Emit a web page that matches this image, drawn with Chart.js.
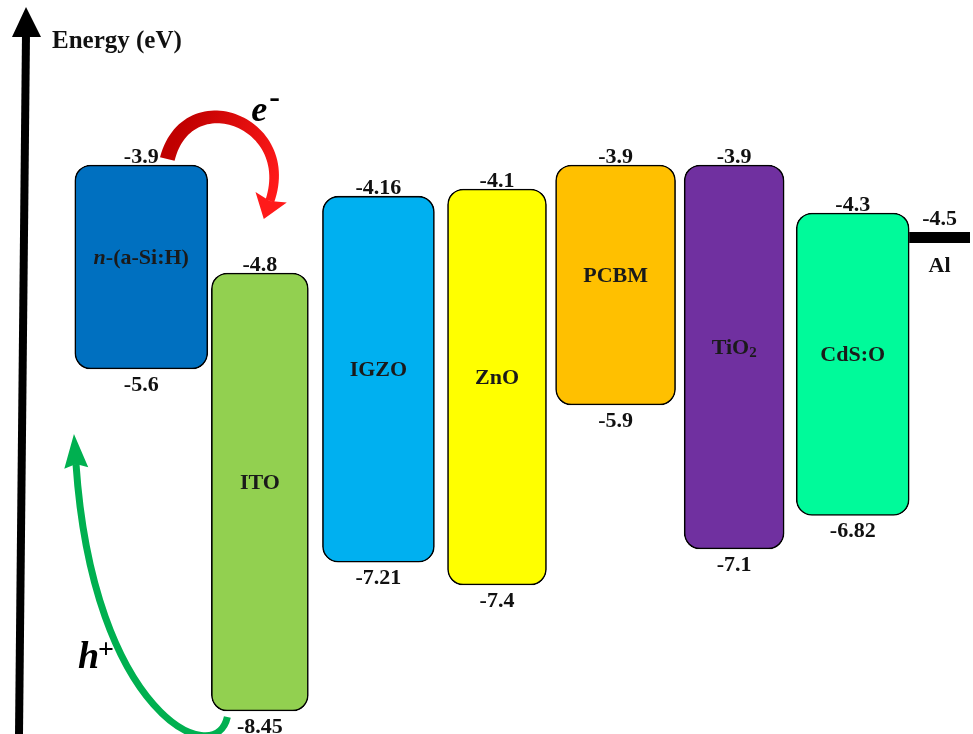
<!DOCTYPE html>
<html><head><meta charset="utf-8">
<script src="https://cdn.jsdelivr.net/npm/chart.js@4.4.1/dist/chart.umd.min.js"></script>
<style>html,body{margin:0;padding:0;background:#fff;}#wrap{width:973px;height:734px;}</style>
</head><body><div id="wrap"><canvas id="c" width="973" height="734"></canvas></div>
<script>
// ---- data ----
const materials = ['n-(a-Si:H)', 'ITO', 'IGZO', 'ZnO', 'PCBM', 'TiO2', 'CdS:O'];
const lumoLevels = [-3.9, -4.8, -4.16, -4.1, -3.9, -3.9, -4.3];
const homoLevels = [-5.6, -8.45, -7.21, -7.4, -5.9, -7.1, -6.82];
const electrodeName = 'Al';
const electrodeLevel = -4.5;
const axisTitle = 'Energy (eV)';
const electronLabel = 'e';
const holeLabel = 'h';

// ---- styles ----
const barColors = ['#0070C0', '#92D050', '#00B0F0', '#FFFF00', '#FFC000', '#7030A0', '#00FA9A'];
const barWidths = [133, 97, 112, 99, 120, 100, 113];
const SERIF = '"Liberation Serif", "Times New Roman", serif';

const datasets = materials.map((m, i) => ({
  label: m,
  data: materials.map((_, j) => (j === i ? [homoLevels[i], lumoLevels[i]] : null)),
  backgroundColor: barColors[i],
  borderColor: '#000',
  borderWidth: 1.6,
  borderSkipped: false,
  borderRadius: 16,
  barThickness: barWidths[i],
  grouped: false,
  clip: false
}));

function fmt(v) { return String(v); }

function bezPt(p, t) {
  const u = 1 - t;
  return {
    x: u*u*u*p[0].x + 3*u*u*t*p[1].x + 3*u*t*t*p[2].x + t*t*t*p[3].x,
    y: u*u*u*p[0].y + 3*u*u*t*p[1].y + 3*u*t*t*p[2].y + t*t*t*p[3].y
  };
}
function bezD(p, t) {
  const u = 1 - t;
  return {
    x: 3*u*u*(p[1].x-p[0].x) + 6*u*t*(p[2].x-p[1].x) + 3*t*t*(p[3].x-p[2].x),
    y: 3*u*u*(p[1].y-p[0].y) + 6*u*t*(p[2].y-p[1].y) + 3*t*t*(p[3].y-p[2].y)
  };
}
function unit(v) { const l = Math.hypot(v.x, v.y) || 1; return { x: v.x / l, y: v.y / l }; }

function arrowHead(ctx, base, dir, len, width) {
  const n = { x: -dir.y, y: dir.x };
  ctx.beginPath();
  ctx.moveTo(base.x + dir.x * len, base.y + dir.y * len);
  ctx.lineTo(base.x + n.x * width / 2 - dir.x * 4, base.y + n.y * width / 2 - dir.y * 4);
  ctx.lineTo(base.x, base.y);
  ctx.lineTo(base.x - n.x * width / 2 - dir.x * 4, base.y - n.y * width / 2 - dir.y * 4);
  ctx.closePath();
  ctx.fill();
}

function taperedArrow(ctx, p, w0, w1, fill) {
  const N = 60, left = [], right = [];
  for (let k = 0; k <= N; k++) {
    const t = k / N, pt = bezPt(p, t), d = unit(bezD(p, t));
    const w = (w0 + (w1 - w0) * t) / 2;
    left.push({ x: pt.x - d.y * w, y: pt.y + d.x * w });
    right.push({ x: pt.x + d.y * w, y: pt.y - d.x * w });
  }
  ctx.fillStyle = fill;
  ctx.beginPath();
  ctx.moveTo(left[0].x, left[0].y);
  left.forEach(q => ctx.lineTo(q.x, q.y));
  for (let k = right.length - 1; k >= 0; k--) ctx.lineTo(right[k].x, right[k].y);
  ctx.closePath();
  ctx.fill();
}

const bandPlugin = {
  id: 'bandPlugin',
  afterDatasetsDraw(chart) {
    const ctx = chart.ctx, ys = chart.scales.y, ca = chart.chartArea;
    const bars = materials.map((m, i) => {
      const el = chart.getDatasetMeta(i).data[i];
      const pr = el.getProps(['x', 'y', 'base', 'width'], true);
      return { x: pr.x, w: pr.width, top: Math.min(pr.y, pr.base), bottom: Math.max(pr.y, pr.base) };
    });
    ctx.save();
    // level labels
    ctx.fillStyle = '#111';
    ctx.textAlign = 'center';
    ctx.textBaseline = 'alphabetic';
    ctx.font = 'bold 22px ' + SERIF;
    bars.forEach((b, i) => {
      ctx.fillText(fmt(lumoLevels[i]), b.x, b.top - 2);
      ctx.fillText(fmt(homoLevels[i]), b.x, b.bottom + 22);
    });
    // material names
    ctx.fillStyle = '#1a1a1a';
    ctx.textBaseline = 'middle';
    bars.forEach((b, i) => {
      const cy = (b.top + b.bottom) / 2 - 9;
      const name = materials[i];
      if (name === 'TiO2') {
        ctx.font = 'bold 22px ' + SERIF;
        const w1 = ctx.measureText('TiO').width;
        ctx.font = 'bold 15px ' + SERIF;
        const w2 = ctx.measureText('2').width;
        const x0 = b.x - (w1 + w2) / 2;
        ctx.textAlign = 'left';
        ctx.font = 'bold 22px ' + SERIF;
        ctx.fillText('TiO', x0, cy);
        ctx.font = 'bold 15px ' + SERIF;
        ctx.fillText('2', x0 + w1, cy + 5);
        ctx.textAlign = 'center';
      } else if (name.startsWith('n-')) {
        ctx.font = 'italic bold 22px ' + SERIF;
        const w1 = ctx.measureText('n').width;
        ctx.font = 'bold 22px ' + SERIF;
        const rest = name.slice(1);
        const w2 = ctx.measureText(rest).width;
        const x0 = b.x - (w1 + w2) / 2;
        ctx.textAlign = 'left';
        ctx.font = 'italic bold 22px ' + SERIF;
        ctx.fillText('n', x0, cy);
        ctx.font = 'bold 22px ' + SERIF;
        ctx.fillText(rest, x0 + w1, cy);
        ctx.textAlign = 'center';
      } else {
        ctx.font = 'bold 22px ' + SERIF;
        ctx.fillText(name, b.x, cy);
      }
    });
    // electrode (Al)
    const last = bars[bars.length - 1];
    const ay = ys.getPixelForValue(electrodeLevel);
    const ax0 = last.x + last.w / 2, ax1 = chart.width - 3;
    ctx.fillStyle = '#000';
    ctx.fillRect(ax0, ay - 5, ax1 - ax0, 11);
    ctx.fillStyle = '#111';
    ctx.textBaseline = 'alphabetic';
    ctx.font = 'bold 22px ' + SERIF;
    ctx.fillText(fmt(electrodeLevel), (ax0 + ax1) / 2, ay - 12);
    ctx.fillText(electrodeName, (ax0 + ax1) / 2, ay + 35);

    // energy axis arrow
    ctx.strokeStyle = '#000';
    ctx.lineWidth = 8;
    ctx.beginPath();
    ctx.moveTo(19, chart.height);
    ctx.lineTo(26, 34);
    ctx.stroke();
    ctx.fillStyle = '#000';
    ctx.beginPath();
    ctx.moveTo(26, 7);
    ctx.lineTo(41, 37);
    ctx.lineTo(12, 37);
    ctx.closePath();
    ctx.fill();
    ctx.textAlign = 'left';
    ctx.font = 'bold 25px ' + SERIF;
    ctx.fillStyle = '#111';
    ctx.fillText(axisTitle, 52, 48);

    // electron transfer arrow (red)
    const a = bars[0], ito = bars[1];
    const S = { x: a.x + 26, y: a.top - 6 };
    const H = { x: ito.x + 10, y: a.top + 36 };
    const rp = [S, { x: S.x + 20, y: S.y - 78 }, { x: H.x + 27, y: H.y - 80 }, H];
    const grad = ctx.createLinearGradient(S.x, S.y, H.x, H.y);
    grad.addColorStop(0, '#C00000');
    grad.addColorStop(1, '#FF1A1A');
    taperedArrow(ctx, rp, 15, 9, grad);
    ctx.fillStyle = '#FF1A1A';
    arrowHead(ctx, H, unit(bezD(rp, 1)), 19, 33);
    ctx.fillStyle = '#000';
    ctx.font = 'italic bold 36px ' + SERIF;
    ctx.fillText(electronLabel, S.x + 84, S.y - 38);
    ctx.font = 'bold 32px ' + SERIF;
    ctx.fillText('-', S.x + 102, S.y - 52);

    // hole transfer arrow (green)
    const itoL = ito.x - ito.w / 2;
    const G0 = { x: itoL + 16, y: ito.bottom + 6 };
    const G3 = { x: ca.left - 6, y: a.bottom + 95 };
    const gp = [G0, { x: G0.x - 12, y: G0.y + 54 }, { x: G3.x + 17, y: G3.y + 250 }, G3];
    ctx.strokeStyle = '#00B050';
    ctx.lineWidth = 7;
    ctx.beginPath();
    ctx.moveTo(G0.x, G0.y);
    ctx.bezierCurveTo(gp[1].x, gp[1].y, gp[2].x, gp[2].y, G3.x, G3.y);
    ctx.stroke();
    ctx.fillStyle = '#00B050';
    arrowHead(ctx, G3, unit(bezD(gp, 1)), 30, 24);
    ctx.fillStyle = '#000';
    ctx.font = 'italic bold 38px ' + SERIF;
    ctx.fillText(holeLabel, G3.x + 2, G3.y + 204);
    ctx.font = 'bold 28px ' + SERIF;
    ctx.fillText('+', G3.x + 22, G3.y + 194);
    ctx.restore();
  }
};

new Chart(document.getElementById('c'), {
  type: 'bar',
  data: { labels: materials, datasets },
  options: {
    responsive: false,
    animation: false,
    layout: { padding: { left: 82, right: 61, top: 57, bottom: 5 } },
    plugins: { legend: { display: false }, tooltip: { enabled: false } },
    scales: {
      x: { display: false },
      y: { display: false, min: -8.6, max: -3.0 }
    }
  },
  plugins: [bandPlugin]
});
</script>
</body></html>
